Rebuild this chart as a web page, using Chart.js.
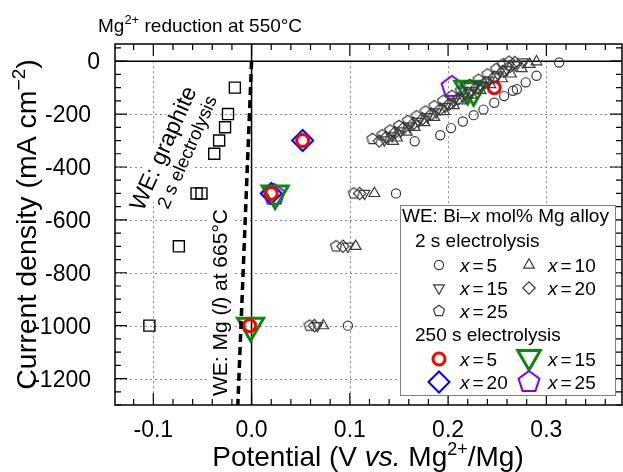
<!DOCTYPE html>
<html><head><meta charset="utf-8">
<script src="https://cdn.jsdelivr.net/npm/chart.js@4/dist/chart.umd.min.js"></script>
<style>html,body{margin:0;padding:0;background:#fff;} canvas{display:block;}</style>
</head><body>
<canvas id="c" width="623" height="472"></canvas>
<script>
const FONT = '"Liberation Sans", Arial, Helvetica, sans-serif';

// ---------- axis ticks ----------
const xTickValues = [-0.1, 0.0, 0.1, 0.2, 0.3];
const xTickLabels = ['-0.1', '0.0', '0.1', '0.2', '0.3'];
const yTickValues = [0, -200, -400, -600, -800, -1000, -1200];
const yTickLabels = ['0', '-200', '-400', '-600', '-800', '-1000', '-1200'];

// ---------- data: [potential V, current density mA cm-2] ----------
const graphite2s = [[-0.017,-100],[-0.024,-200],[-0.027,-250],[-0.033,-300],[-0.038,-350],[-0.056,-500],[-0.051,-500],[-0.074,-700],[-0.104,-1000]];

const alloy5_2s = [[0.098,-1000],[0.147,-500],[0.166,-303],[0.192,-280],[0.203,-253],[0.215,-228],[0.226,-204],[0.236,-183],[0.247,-157],[0.257,-132],[0.266,-112],[0.270,-106],[0.279,-80],[0.290,-55],[0.313,-5]];
const alloy10_2s = [[0.073,-1000],[0.106,-700],[0.125,-500],[0.144,-303],[0.148,-290],[0.158,-268],[0.166,-250],[0.176,-232],[0.186,-212],[0.196,-190],[0.206,-168],[0.213,-150],[0.224,-128],[0.233,-110],[0.243,-88],[0.255,-66],[0.264,-48],[0.275,-28],[0.283,-12],[0.290,-2]];
const alloy15_2s = [[0.067,-1000],[0.098,-700],[0.115,-500],[0.135,-298],[0.143,-282],[0.152,-264],[0.161,-246],[0.170,-228],[0.179,-210],[0.188,-192],[0.197,-172],[0.206,-152],[0.215,-133],[0.224,-112],[0.233,-92],[0.242,-72],[0.251,-52],[0.260,-32],[0.268,-14],[0.276,-3]];
const alloy20_2s = [[0.064,-1000],[0.093,-700],[0.110,-500],[0.130,-302],[0.137,-288],[0.146,-270],[0.155,-252],[0.165,-235],[0.174,-218],[0.183,-200],[0.192,-181],[0.201,-163],[0.210,-143],[0.220,-121],[0.229,-100],[0.238,-80],[0.247,-60],[0.256,-38],[0.263,-20],[0.268,-5]];
const alloy25_2s = [[0.059,-1000],[0.086,-700],[0.104,-500],[0.123,-294],[0.133,-280],[0.141,-262],[0.150,-245],[0.159,-226],[0.168,-208],[0.177,-190],[0.186,-170],[0.195,-150],[0.204,-131],[0.213,-111],[0.222,-90],[0.231,-70],[0.240,-50],[0.249,-30],[0.256,-12],[0.262,-2]];

const alloy5_250s = [[-0.002,-1000],[0.020,-500],[0.052,-300],[0.247,-100]];
const alloy15_250s = [[-0.001,-1000],[0.024,-500],[0.220,-104],[0.226,-110]];
const alloy20_250s = [[0.020,-500],[0.052,-300]];
const alloy25_250s = [[0.023,-505],[0.204,-97]];

const mgRefLine = [[0.0,0],[-0.014,-1300]];

// ---------- styles ----------
const GRAY = '#3c3c3c';
const RED = '#ff0000', GREEN = '#0a8a0a', BLUE = '#0000ff', PURPLE = '#8000ff';

function pathMarker(ctx, type, x, y, r){
  ctx.beginPath();
  if (type === 'circle') { ctx.arc(x, y, r, 0, Math.PI*2); }
  else if (type === 'square') { const s = r*Math.SQRT1_2; ctx.rect(x-s, y-s, 2*s, 2*s); }
  else if (type === 'diamond') { ctx.moveTo(x-r,y); ctx.lineTo(x,y-r); ctx.lineTo(x+r,y); ctx.lineTo(x,y+r); ctx.closePath(); }
  else if (type === 'triUp' || type === 'triDown' || type === 'pentagon') {
    const n = type === 'pentagon' ? 5 : 3;
    const start = type === 'triDown' ? Math.PI/2 : -Math.PI/2;
    for (let k=0;k<n;k++){ const a = start + k*2*Math.PI/n; const px = x + r*Math.cos(a), py = y + r*Math.sin(a); if(k===0) ctx.moveTo(px,py); else ctx.lineTo(px,py);}
    ctx.closePath();
  }
}
function drawMarker(ctx, type, x, y, r, color, lw){
  ctx.save(); ctx.strokeStyle = color; ctx.lineWidth = lw; ctx.lineJoin = 'miter';
  pathMarker(ctx, type, x, y, r); ctx.stroke(); ctx.restore();
}
function pentagonCanvas(r, color, lw){
  const c = document.createElement('canvas');
  const s = Math.ceil(2*(r+lw)) + 4; c.width = s; c.height = s;
  const g = c.getContext('2d'); drawMarker(g, 'pentagon', s/2, s/2, r, color, lw);
  return c;
}

function pts(arr){ return arr.map(([x,y]) => ({x, y})); }
function markerSet(label, arr, style, r, color, lw, rot){
  return { label, data: pts(arr), pointStyle: style, pointRadius: r, pointHoverRadius: r,
    borderColor: color, backgroundColor: 'rgba(0,0,0,0)', pointBorderColor: color,
    pointBackgroundColor: 'rgba(0,0,0,0)', pointBorderWidth: lw, borderWidth: lw, pointRotation: rot || 0, showLine: false };
}

const datasets = [
  { label: 'WE: Mg (l) at 665°C', data: pts(mgRefLine), showLine: true, borderColor: '#000', borderWidth: 3.5,
    borderDash: [8,5], pointRadius: 0, fill: false },
  markerSet('graphite, 2 s', graphite2s, 'rect', 7.8, '#000', 1.4),
  markerSet('x = 5, 2 s', alloy5_2s, 'circle', 4.6, GRAY, 1.2),
  markerSet('x = 10, 2 s', alloy10_2s, 'triangle', 6.2, GRAY, 1.2),
  markerSet('x = 15, 2 s', alloy15_2s, 'triangle', 6.2, GRAY, 1.2, 180),
  markerSet('x = 20, 2 s', alloy20_2s, 'rectRot', 6.2, GRAY, 1.2),
  markerSet('x = 25, 2 s', alloy25_2s, pentagonCanvas(5.8, GRAY, 1.2), 6, GRAY, 1.2),
  markerSet('x = 5, 250 s', alloy5_250s, 'circle', 6, RED, 3),
  markerSet('x = 15, 250 s', alloy15_250s, 'triangle', 15, GREEN, 3, 180),
  markerSet('x = 20, 250 s', alloy20_250s, 'rectRot', 10.5, BLUE, 2),
  markerSet('x = 25, 250 s', alloy25_250s, pentagonCanvas(11, PURPLE, 2), 11, PURPLE, 2),
];

// ---------- rich text helper ----------
function segFont(s, base){ const size = s.sup ? Math.round(base*0.66) : base; return (s.it ? 'italic ' : '') + size + 'px ' + FONT; }
function richWidth(ctx, segs, base){ let w = 0; for (const s of segs){ if (s.gap){ w += s.gap; continue;} ctx.font = segFont(s, base); w += ctx.measureText(s.t).width; } return w; }
function drawRich(ctx, segs, x, y, base, align){
  const w = richWidth(ctx, segs, base);
  let cx = align === 'center' ? x - w/2 : (align === 'right' ? x - w : x);
  ctx.textAlign = 'left'; ctx.textBaseline = 'alphabetic';
  for (const s of segs){
    if (s.gap){ cx += s.gap; continue; }
    ctx.font = segFont(s, base);
    ctx.fillText(s.t, cx, y + (s.sup ? -base*0.4 : 0));
    cx += ctx.measureText(s.t).width;
  }
  return w;
}
function rotatedText(ctx, segs, x, y, base, angleDeg, bg){
  ctx.save(); ctx.translate(x, y); ctx.rotate(angleDeg*Math.PI/180);
  const w = richWidth(ctx, segs, base);
  if (bg){ ctx.fillStyle = '#fff'; ctx.fillRect(-2, -base*0.8, w+4, base*1.05); }
  ctx.fillStyle = '#000'; drawRich(ctx, segs, 0, 0, base, 'left');
  ctx.restore();
}
function xEq(v){ return [{t:'x', it:true},{gap:3},{t:'='},{gap:3},{t:v}]; }

const decor = {
  id: 'decor',
  beforeDatasetsDraw(chart){
    const {ctx, chartArea: a, scales: {x, y}} = chart;
    ctx.save();
    const y0 = y.getPixelForValue(0), x0 = x.getPixelForValue(0);
    // dotted grid
    ctx.strokeStyle = '#8a8a8a'; ctx.lineWidth = 1; ctx.setLineDash([2,3]);
    xTickValues.forEach(v => { if (v === 0) return; const p = Math.round(x.getPixelForValue(v)) + 0.5;
      ctx.beginPath(); ctx.moveTo(p, y0); ctx.lineTo(p, a.bottom); ctx.stroke(); });
    yTickValues.forEach(v => { if (v === 0) return; const p = Math.round(y.getPixelForValue(v)) + 0.5;
      ctx.beginPath(); ctx.moveTo(a.left, p); ctx.lineTo(a.right, p); ctx.stroke(); });
    ctx.setLineDash([]);
    // zero lines
    ctx.strokeStyle = '#000'; ctx.lineWidth = 1.5;
    ctx.beginPath(); ctx.moveTo(a.left, y0); ctx.lineTo(a.right, y0); ctx.stroke();
    ctx.beginPath(); ctx.moveTo(x0, a.top); ctx.lineTo(x0, a.bottom); ctx.stroke();
    // annotations
    rotatedText(ctx, [{t:'WE: graphite'}], 143, 212, 23, -66, true);
    rotatedText(ctx, [{t:'2 s electrolysis'}], 168, 210, 18.5, -66, true);
    rotatedText(ctx, [{t:'WE: Mg ('},{t:'l', it:true},{t:') at 665°C'}], 227, 396, 21, -90, true);
    ctx.restore();
  },
  afterDatasetsDraw(chart){
    const {ctx, chartArea: a, scales: {x, y}} = chart;
    ctx.save();
    // frame
    ctx.strokeStyle = '#000'; ctx.lineWidth = 1.5;
    ctx.strokeRect(a.left, a.top, a.right - a.left, a.bottom - a.top);
    // inward ticks
    ctx.lineWidth = 1.2;
    const xmin = x.min, xmax = x.max, ymin = y.min, ymax = y.max;
    for (let i = Math.ceil(xmin/0.02 - 1e-6); i*0.02 <= xmax + 1e-9; i++){
      const v = i*0.02; const major = Math.abs(Math.round(v*10) - v*10) < 1e-6; const L = major ? 12 : 6;
      const p = x.getPixelForValue(v);
      ctx.beginPath(); ctx.moveTo(p, a.bottom); ctx.lineTo(p, a.bottom - L); ctx.moveTo(p, a.top); ctx.lineTo(p, a.top + L); ctx.stroke();
    }
    for (let i = Math.ceil(ymin/50); i*50 <= ymax; i++){
      const v = i*50; const major = v % 200 === 0; const L = major ? 12 : 6;
      const p = y.getPixelForValue(v);
      ctx.beginPath(); ctx.moveTo(a.left, p); ctx.lineTo(a.left + L, p); ctx.moveTo(a.right, p); ctx.lineTo(a.right - L, p); ctx.stroke();
    }
    // tick labels
    ctx.fillStyle = '#000'; ctx.font = '23px ' + FONT; ctx.textBaseline = 'alphabetic';
    ctx.textAlign = 'center';
    xTickValues.forEach((v, i) => ctx.fillText(xTickLabels[i], x.getPixelForValue(v), 437));
    ctx.textAlign = 'right';
    yTickValues.forEach((v, i) => ctx.fillText(yTickLabels[i], v === 0 ? 100 : 91, y.getPixelForValue(v) + 8));
    // title
    drawRich(ctx, [{t:'Mg'},{t:'2+', sup:true},{t:' reduction at 550°C'}], 98, 32, 19, 'left');
    // x title
    drawRich(ctx, [{t:'Potential (V '},{t:'vs.', it:true},{t:' Mg'},{t:'2+', sup:true},{t:'/Mg)'}], 368, 466, 28, 'center');
    // y title
    ctx.save(); ctx.translate(36, (a.top + a.bottom)/2); ctx.rotate(-Math.PI/2);
    drawRich(ctx, [{t:'Current density (mA cm'},{t:'\u22122', sup:true},{t:')'}], 0, 0, 28.5, 'center');
    ctx.restore();
    // legend
    ctx.fillStyle = '#fff'; ctx.fillRect(400.5, 205.5, 215, 190);
    ctx.strokeStyle = '#808080'; ctx.lineWidth = 1; ctx.strokeRect(400.5, 205.5, 215, 190);
    ctx.fillStyle = '#000';
    const LF = 19;
    drawRich(ctx, [{t:'WE: Bi\u2013'},{t:'x', it:true},{t:' mol% Mg alloy'}], 402, 222, LF, 'left');
    drawRich(ctx, [{t:'2 s electrolysis'}], 415, 247, LF, 'left');
    drawMarker(ctx, 'circle', 439, 265, 4.6, GRAY, 1.2);   drawRich(ctx, xEq('5'), 460, 272, LF, 'left');
    drawMarker(ctx, 'triUp', 529, 265, 6.2, GRAY, 1.2);    drawRich(ctx, xEq('10'), 548, 272, LF, 'left');
    drawMarker(ctx, 'triDown', 439, 288, 6.2, GRAY, 1.2);  drawRich(ctx, xEq('15'), 460, 295, LF, 'left');
    drawMarker(ctx, 'diamond', 529, 288, 6.2, GRAY, 1.2);  drawRich(ctx, xEq('20'), 548, 295, LF, 'left');
    drawMarker(ctx, 'pentagon', 439, 311, 5.8, GRAY, 1.2); drawRich(ctx, xEq('25'), 460, 318, LF, 'left');
    drawRich(ctx, [{t:'250 s electrolysis'}], 415, 341, LF, 'left');
    drawMarker(ctx, 'circle', 439, 359, 6, RED, 3);        drawRich(ctx, xEq('5'), 460, 366, LF, 'left');
    drawMarker(ctx, 'triDown', 529, 357, 13, GREEN, 3);    drawRich(ctx, xEq('15'), 548, 366, LF, 'left');
    drawMarker(ctx, 'diamond', 439, 382, 10.5, BLUE, 2);   drawRich(ctx, xEq('20'), 460, 389, LF, 'left');
    drawMarker(ctx, 'pentagon', 529, 382, 11, PURPLE, 2);  drawRich(ctx, xEq('25'), 548, 389, LF, 'left');
    ctx.restore();
  }
};

new Chart(document.getElementById('c'), {
  type: 'scatter',
  data: { datasets },
  options: {
    responsive: false, animation: false, events: [],
    layout: { autoPadding: false, padding: { left: 0, top: 44, right: 1, bottom: 0 } },
    plugins: { legend: { display: false }, tooltip: { enabled: false }, title: { display: false } },
    scales: {
      x: { type: 'linear', min: -0.139, max: 0.377, ticks: { display: false }, grid: { display: false }, border: { display: false },
           afterFit(s){ s.height = 67; } },
      y: { type: 'linear', min: -1300, max: 65, ticks: { display: false }, grid: { display: false }, border: { display: false },
           afterFit(s){ s.width = 115; } }
    }
  },
  plugins: [decor]
});
</script>
</body></html>
